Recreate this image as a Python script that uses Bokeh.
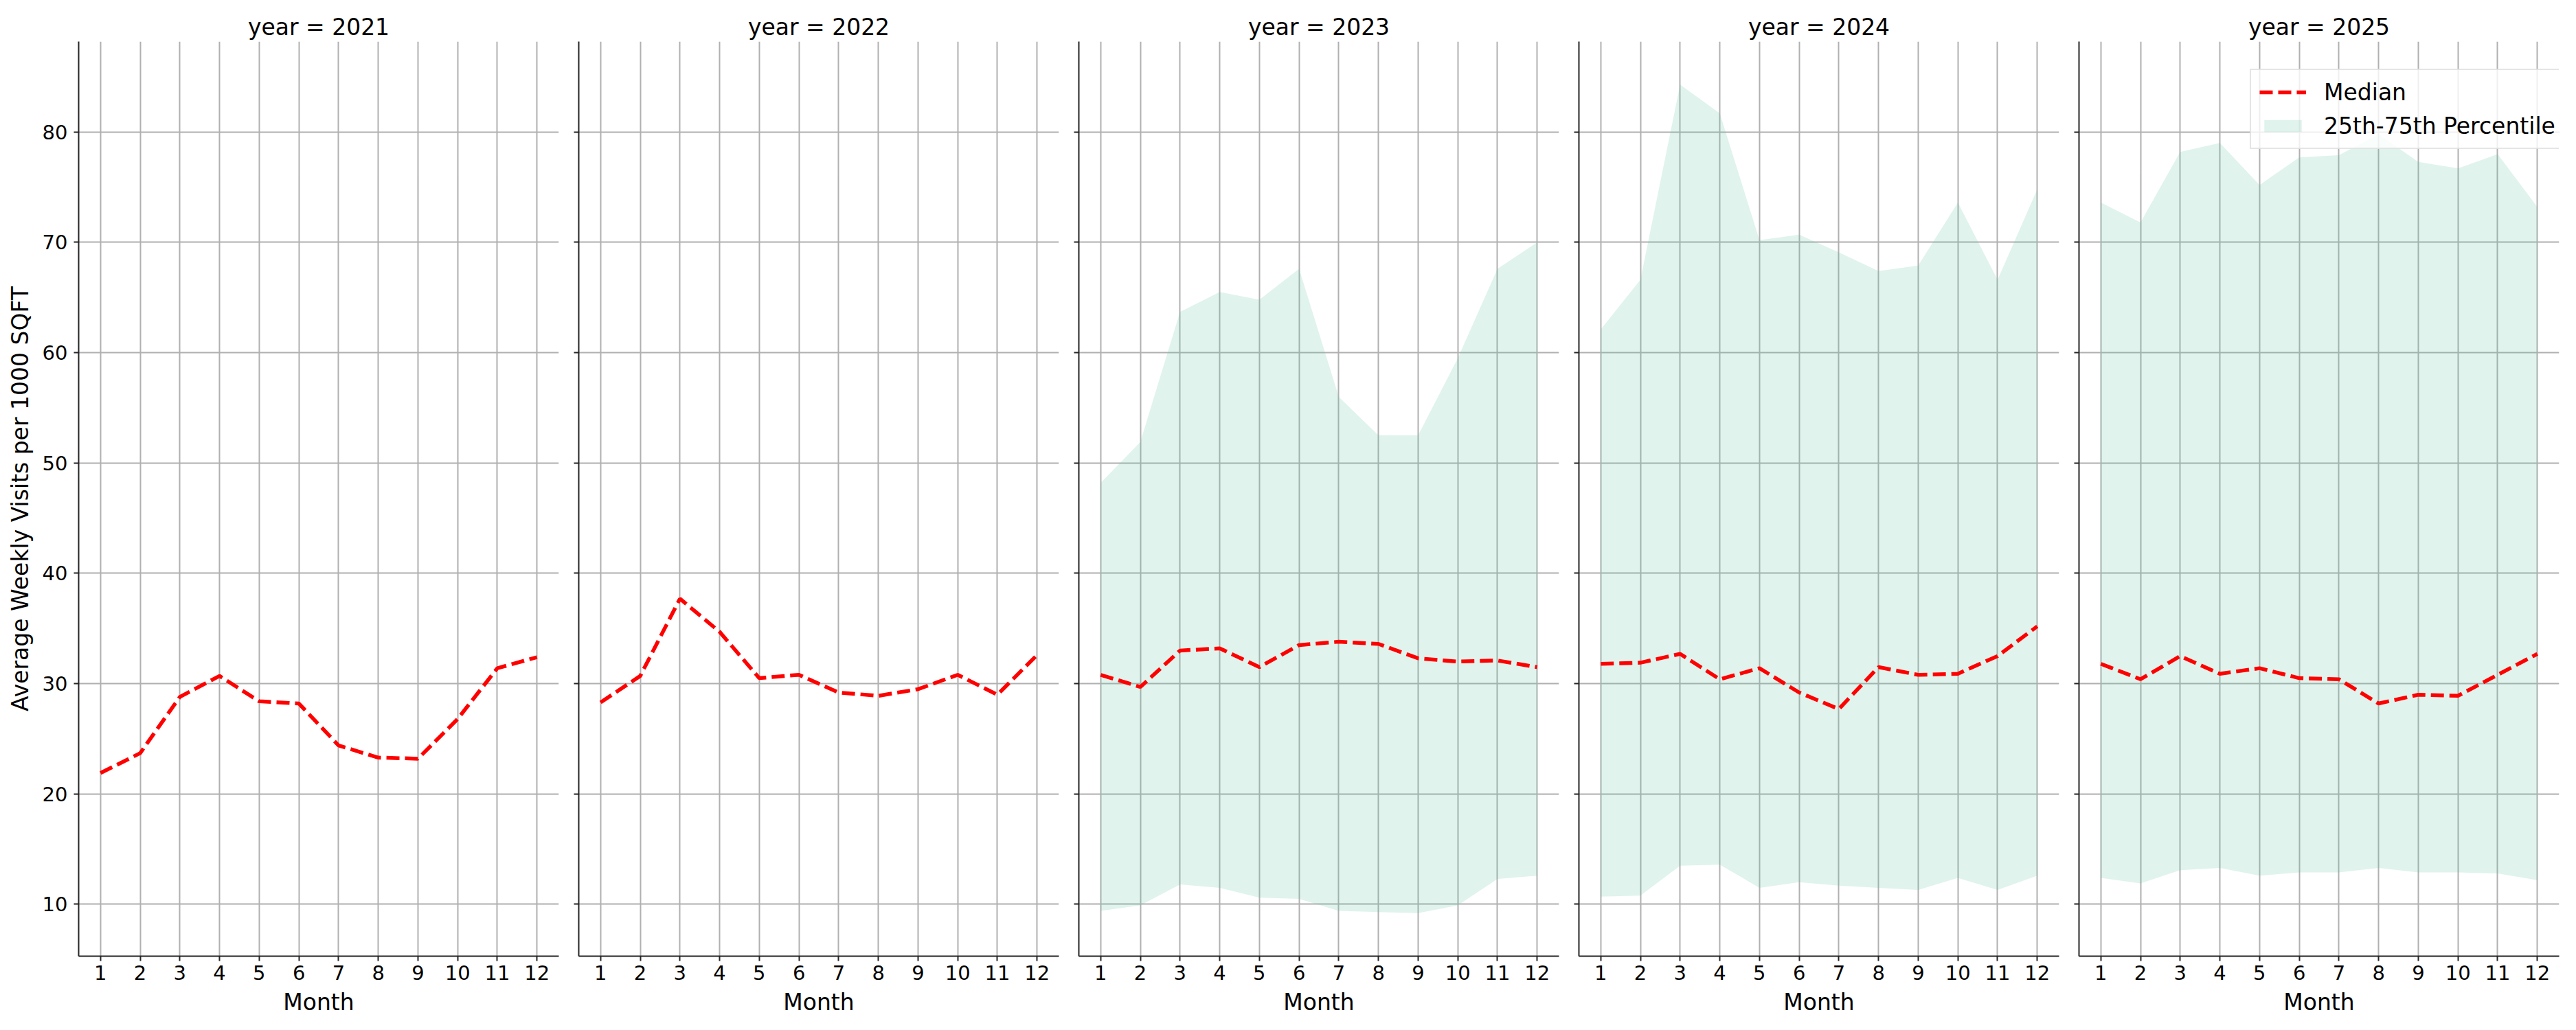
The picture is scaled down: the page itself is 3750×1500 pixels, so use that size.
from bokeh.plotting import figure
from bokeh.layouts import row
from bokeh.models import Range1d, FixedTicker, Legend, LegendItem
from bokeh.embed import file_html
from bokeh.resources import INLINE

# monthly values
months = [1, 2, 3, 4, 5, 6, 7, 8, 9, 10, 11, 12]
years = [2021, 2022, 2023, 2024, 2025]
y_ticks = [10, 20, 30, 40, 50, 60, 70, 80]

median_2021 = [21.9, 23.7, 28.8, 30.7, 28.4, 28.2, 24.4, 23.3, 23.2, 26.8, 31.4, 32.4]
median_2022 = [28.3, 30.7, 37.7, 34.7, 30.5, 30.8, 29.2, 28.9, 29.5, 30.8, 29.0, 32.6]
median_2023 = [30.8, 29.7, 33.0, 33.2, 31.5, 33.5, 33.8, 33.6, 32.3, 32.0, 32.1, 31.5]
median_2024 = [31.8, 31.9, 32.7, 30.4, 31.4, 29.2, 27.7, 31.5, 30.8, 30.9, 32.5, 35.2]
median_2025 = [31.8, 30.4, 32.5, 30.9, 31.4, 30.5, 30.4, 28.2, 29.0, 28.9, 30.8, 32.7]

p25_2023 = [9.4, 9.9, 11.8, 11.5, 10.6, 10.5, 9.4, 9.3, 9.2, 9.9, 12.3, 12.6]
p75_2023 = [48.2, 51.9, 63.7, 65.5, 64.8, 67.6, 56.0, 52.5, 52.5, 59.5, 67.6, 70.0]
p25_2024 = [10.7, 10.8, 13.5, 13.6, 11.5, 12.0, 11.7, 11.5, 11.3, 12.4, 11.3, 12.6]
p75_2024 = [62.1, 66.6, 84.3, 81.7, 70.2, 70.7, 69.1, 67.4, 67.9, 73.6, 66.6, 74.8]
p25_2025 = [12.4, 11.9, 13.1, 13.3, 12.6, 12.9, 12.9, 13.3, 12.9, 12.9, 12.8, 12.2]
p75_2025 = [73.6, 71.8, 78.2, 79.0, 75.2, 77.7, 77.9, 79.8, 77.3, 76.7, 78.0, 73.2]

medians = {2021: median_2021, 2022: median_2022, 2023: median_2023,
           2024: median_2024, 2025: median_2025}
bands = {2023: (p25_2023, p75_2023), 2024: (p25_2024, p75_2024),
         2025: (p25_2025, p75_2025)}

FONT = "DejaVu Sans"
y_range = Range1d(5.3, 88.2)

plots = []
for i, yr in enumerate(years):
    first = (i == 0)
    last = (i == len(years) - 1)
    p = figure(frame_width=699, frame_height=1332,
               x_range=Range1d(0.45, 12.55), y_range=y_range,
               output_backend="svg", toolbar_location=None, tools="",
               min_border_left=114 if first else 16,
               min_border_right=12 if last else 13,
               min_border_top=60, min_border_bottom=100)
    p.outline_line_color = None
    p.background_fill_color = "white"
    p.border_fill_color = "white"

    p.title.text = "year = " + str(yr)
    p.title.align = "center"
    p.title.text_font = FONT
    p.title.text_font_size = "33px"
    p.title.text_font_style = "normal"
    p.title.text_color = "black"
    p.title.standoff = 4

    # shaded band first so the line sits on top
    band_r = None
    if yr in bands:
        lo, hi = bands[yr]
        band_r = p.varea(x=months, y1=lo, y2=hi, fill_color="#66c2a5", fill_alpha=0.2)
    line_r = p.line(months, medians[yr], line_color="red", line_width=5.5, line_dash="19 8")

    p.xaxis.ticker = FixedTicker(ticks=months)
    p.yaxis.ticker = FixedTicker(ticks=y_ticks)
    p.xaxis.axis_label = "Month"

    for ax in [p.xaxis[0], p.yaxis[0]]:
        ax.axis_line_color = "#262626"
        ax.axis_line_width = 2
        ax.major_tick_line_color = "#262626"
        ax.major_tick_line_width = 2
        ax.major_tick_in = 0
        ax.major_tick_out = 7
        ax.minor_tick_line_color = None
        ax.major_label_text_font = FONT
        ax.major_label_text_font_size = "29px"
        ax.major_label_text_color = "black"
        ax.axis_label_text_font = FONT
        ax.axis_label_text_font_size = "33px"
        ax.axis_label_text_font_style = "normal"
        ax.axis_label_text_color = "black"
        ax.axis_label_standoff = 10
    p.xaxis.major_label_standoff = 6

    if first:
        p.yaxis.axis_label = "Average Weekly Visits per 1000 SQFT"
        p.yaxis.major_label_standoff = 9
    else:
        # shared y: ticks only, no labels
        p.yaxis.major_label_overrides = {t: "" for t in y_ticks}
        p.yaxis.major_label_text_color = None
        p.yaxis.major_label_standoff = 0

    p.grid.grid_line_color = "#b0b0b0"
    p.grid.grid_line_width = 2

    if last:
        legend = Legend(items=[LegendItem(label="Median", renderers=[line_r]),
                               LegendItem(label="25th-75th Percentile", renderers=[band_r])],
                        location=(249, 1175))
        legend.label_text_font = FONT
        legend.label_text_font_size = "33px"
        legend.label_text_color = "black"
        legend.glyph_width = 68
        legend.glyph_height = 22
        legend.label_height = 40
        legend.label_standoff = 26
        legend.spacing = 9
        legend.padding = 12
        legend.margin = 0
        legend.border_line_color = "#cccccc"
        legend.border_line_width = 2
        legend.background_fill_color = "white"
        legend.background_fill_alpha = 0.8
        p.add_layout(legend, "center")

    plots.append(p)

layout = row(*plots)
open("out.html", "w").write(file_html(layout, INLINE, "Weekly visits by year"))
